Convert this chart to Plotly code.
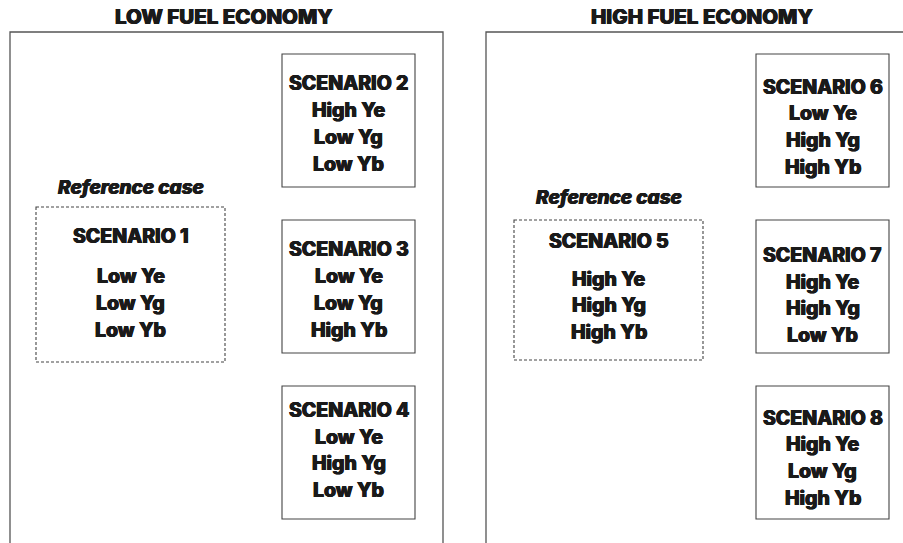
import plotly.graph_objects as go

# ---- data ----
panel_titles = ["LOW FUEL ECONOMY", "HIGH FUEL ECONOMY"]
scenarios = ["SCENARIO 1", "SCENARIO 2", "SCENARIO 3", "SCENARIO 4",
             "SCENARIO 5", "SCENARIO 6", "SCENARIO 7", "SCENARIO 8"]
ye_levels = ["Low", "High", "Low", "Low", "High", "Low", "High", "High"]
yg_levels = ["Low", "Low", "Low", "High", "High", "High", "High", "Low"]
yb_levels = ["Low", "Low", "High", "Low", "High", "High", "Low", "High"]
reference_label = "Reference case"
is_reference = [True, False, False, False, True, False, False, False]

# ---- layout geometry (pixels of the window, y downward) ----
panel_boxes = [(10, 32, 443, 560), (486, 32, 920, 560)]
title_pos = [(224, 16), (702, 16)]
box_geom = [  # x0, y0, x1, y1
    (36, 207, 225, 362),
    (282, 54, 415, 187),
    (282, 220, 415, 353),
    (282, 386, 415, 519),
    (514, 220, 703, 360),
    (756, 54, 889, 187),
    (756, 220, 889, 353),
    (756, 386, 889, 519),
]
line_ys = [
    (236, 276, 303, 330),
    (83, 110, 137, 164),
    (249, 276, 303, 330),
    (410, 437, 463, 490),
    (241, 279, 305, 332),
    (87, 113, 140, 167),
    (255, 282, 308, 335),
    (418, 444, 471, 498),
]
ref_label_y = {0: 187, 4: 197}

FONT = "Inter"
INK = "#1a1a1a"
W, H = 903, 543
fig = go.Figure()
shapes = []
annotations = []


def txtfont(size):
    return dict(family=FONT, size=size, color=INK, weight=800,
                shadow="0.5px 0 0 %s, -0.5px 0 0 %s, 0 0.4px 0 %s" % (INK, INK, INK))


for (x0, y0, x1, y1) in panel_boxes:
    shapes.append(dict(type="rect", x0=x0, y0=y0, x1=x1, y1=y1, xref="x", yref="y",
                       line=dict(color="#555555", width=1.3)))
for t, (tx, ty) in zip(panel_titles, title_pos):
    annotations.append(dict(x=tx, y=ty, xref="x", yref="y", text=t,
                            showarrow=False, font=txtfont(20.5),
                            xanchor="center", yanchor="middle"))

for i, name in enumerate(scenarios):
    x0, y0, x1, y1 = box_geom[i]
    shapes.append(dict(type="rect", x0=x0, y0=y0, x1=x1, y1=y1, xref="x", yref="y",
                       line=dict(color="#444444", width=1.1,
                                 dash="3px,2px" if is_reference[i] else "solid")))
    cx = (x0 + x1) / 2
    lines = [name, "%s Ye" % ye_levels[i], "%s Yg" % yg_levels[i], "%s Yb" % yb_levels[i]]
    for txt, ly in zip(lines, line_ys[i]):
        annotations.append(dict(x=cx, y=ly, xref="x", yref="y", text=txt,
                                showarrow=False, font=txtfont(19.5),
                                xanchor="center", yanchor="middle"))
    if is_reference[i]:
        f = txtfont(19)
        f["style"] = "italic"
        annotations.append(dict(x=cx, y=ref_label_y[i], xref="x", yref="y",
                                text=reference_label,
                                showarrow=False, font=f,
                                xanchor="center", yanchor="middle"))

fig.add_trace(go.Scatter(x=[0, W], y=[0, H], mode="markers",
                         marker=dict(opacity=0), hoverinfo="skip", showlegend=False))

fig.update_layout(
    width=W, height=H,
    margin=dict(l=0, r=0, t=0, b=0),
    paper_bgcolor="white", plot_bgcolor="white",
    xaxis=dict(range=[0, W], visible=False, fixedrange=True),
    yaxis=dict(range=[H, 0], visible=False, fixedrange=True),
    shapes=shapes, annotations=annotations, showlegend=False,
)
fig.write_html("out.html", config={"displayModeBar": False},
               post_script="document.body.style.margin='0';document.body.style.overflow='hidden';")
